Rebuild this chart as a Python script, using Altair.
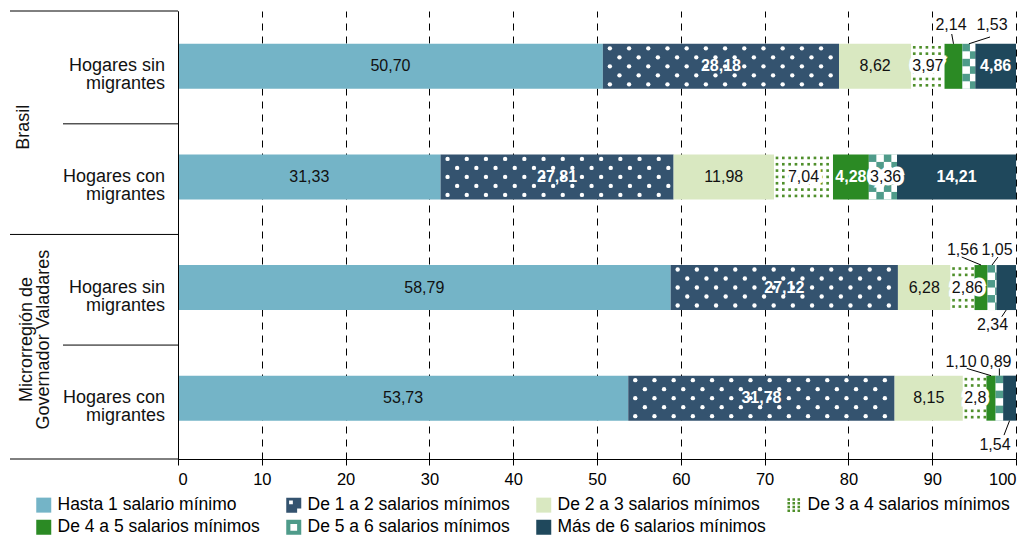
import altair as alt
import pandas as pd

FONT = "Liberation Sans"

# ---------------- data ----------------
categories = [
    "Hasta 1 salario mínimo",
    "De 1 a 2 salarios mínimos",
    "De 2 a 3 salarios mínimos",
    "De 3 a 4 salarios mínimos",
    "De 4 a 5 salarios mínimos",
    "De 5 a 6 salarios mínimos",
    "Más de 6 salarios mínimos",
]
group_names = ["Brasil", "Microrregión de\nGovernador Valadares"]
row_names = ["Hogares sin\nmigrantes", "Hogares con\nmigrantes",
             "Hogares sin\nmigrantes", "Hogares con\nmigrantes"]

brasil_sin = [50.70, 28.18, 8.62, 3.97, 2.14, 1.53, 4.86]
brasil_con = [31.33, 27.81, 11.98, 7.04, 4.28, 3.36, 14.21]
gv_sin = [58.79, 27.12, 6.28, 2.86, 1.56, 1.05, 2.34]
gv_con = [53.73, 31.78, 8.15, 2.81, 1.10, 0.89, 1.54]
series = [brasil_sin, brasil_con, gv_sin, gv_con]

# label placement: c = centred in segment, l = from segment start, o = outside (annotation)
label_mode = [
    ["c", "c", "c", "c", "o", "o", "c"],
    ["c", "c", "c", "c", "c", "l", "c"],
    ["c", "c", "c", "l", "o", "o", "o"],
    ["c", "c", "c", "l", "o", "o", "o"],
]
label_text_override = {(3, 3): "2,8"}

# outside labels: (row, category index, label x, label y, leader end x, leader end y)
annotations = [
    (0, 4, 92.24, -0.369, 92.33, -0.292),
    (0, 5, 97.14, -0.369, 96.90, -0.265),
    (2, 4, 93.62, 1.661, 93.52, 1.724),
    (2, 5, 97.73, 1.661, 97.85, 1.724),
    (2, 6, 97.20, 2.339, 98.30, 2.264),
    (3, 4, 93.44, 2.669, 94.12, 2.731),
    (3, 5, 97.60, 2.669, 98.015, 2.731),
    (3, 6, 97.49, 3.424, 98.57, 3.334),
]

# ---------------- styles ----------------
legend_colors = ["#74b4c7", "#34536f", "#d9e8c1", "#4f8f2b", "#2b8a24", "#4f9b8a", "#1f485c"]
base_colors = ["#74b4c7", "#34536f", "#d9e8c1", "#ffffff", "#2b8a24", "#4f9b8a", "#1f485c"]
SQ = "M-1,-1H1V1H-1Z"


def sq(cx, cy, h):
    return f"M{cx-h},{cy-h}H{cx+h}V{cy+h}H{cx-h}Z"


def hole(x0, y0, x1, y1):
    return f"M{x0},{y0}V{y1}H{x1}V{y0}Z"


shape_dots = SQ + hole(-0.62, -0.62, -0.12, -0.12) + hole(0.45, 0.45, 1, 1)
shape_grid = "".join(sq(cx, cy, 0.17) for cy in (-0.75, -0.25, 0.25, 0.75) for cx in (-0.67, 0, 0.67))
shape_ring = SQ + hole(-0.45, -0.45, 0.45, 0.45)
legend_shapes = [SQ, shape_dots, SQ, shape_grid, SQ, shape_ring, SQ]

W, H = 838, 448
Y_DOMAIN = [-0.5, 3.55]
PXU = W / 100.0
PYU = H / (Y_DOMAIN[1] - Y_DOMAIN[0])
BH = 22.5 / PYU


def fmt(v):
    return f"{v:.2f}".replace(".", ",")


# ---------------- derived tables ----------------
recs = []
for r, vals in enumerate(series):
    s = 0.0
    for c, v in enumerate(vals):
        recs.append(dict(row=r, ci=c, cat=categories[c], v=v, start=s, end=s + v,
                         mid=s + v / 2, y0=r - BH, y1=r + BH, base=base_colors[c]))
        s += v
seg = pd.DataFrame(recs)

lab = []
for _, g in seg.iterrows():
    r, c = int(g.row), int(g.ci)
    mode = label_mode[r][c]
    if mode == "o":
        continue
    txt = label_text_override.get((r, c), fmt(g.v))
    style = "w" if c in (1, 4, 6) else ("h" if c in (3, 5) else "k")
    x = g.mid if mode == "c" else g.start + 0.15
    lab.append(dict(row=r, x=x, text=txt, mode=mode, style=style))
lab = pd.DataFrame(lab)

ann = []
for (r, c, lx, ly, ex, ey) in annotations:
    g = seg[(seg.row == r) & (seg.ci == c)].iloc[0]
    edge = r - BH if ly < r else r + BH
    ann.append(dict(text=fmt(g.v), lx=lx, ly=ly, sx=g.mid, sy=edge, ex=ex, ey=ey))
ann = pd.DataFrame(ann)

# patterns derived from segment extents
dots12 = []
for _, g in seg[seg.ci == 1].iterrows():
    for k in range(5):
        yy = g.row + (-18 + 9 * k) / PYU
        x = g.start + (7 if k % 2 == 0 else 16.6) / PXU
        while x < g.end - 2 / PXU:
            dots12.append(dict(x=x, y=yy))
            x += 19.2 / PXU
dots12 = pd.DataFrame(dots12)

dots34 = []
for _, g in seg[seg.ci == 3].iterrows():
    for k in range(7):
        yy = g.row + (-19 + 6.333 * k) / PYU
        x = g.start + 3 / PXU
        while x < g.end - 1.5 / PXU:
            dots34.append(dict(x=x, y=yy))
            x += 6.33 / PXU
dots34 = pd.DataFrame(dots34)

checks = []
cw, ch = 7.5 / PXU, 2 * BH / 6
for _, g in seg[seg.ci == 5].iterrows():
    for j in range(6):
        i, x = 0, g.start
        while x < g.end - 1e-6:
            if (i + j) % 2 == 1:
                checks.append(dict(x=x, x2=min(x + cw, g.end),
                                   y=g.row - BH + j * ch, y2=g.row - BH + (j + 1) * ch))
            x += cw
            i += 1
checks = pd.DataFrame(checks)

rows_df = pd.DataFrame(dict(row=list(range(4)), name=row_names))
grp_df = pd.DataFrame(dict(y=[0.55, 2.47], name=group_names))

# ---------------- encodings ----------------
xs = alt.Scale(domain=[0, 100], nice=False, zero=False)
ys = alt.Scale(domain=Y_DOMAIN, nice=False, zero=False, reverse=True)

x_axis = alt.Axis(values=list(range(0, 101, 10)), title=None, grid=True, gridColor="black",
                  gridDash=[7, 6], gridWidth=1, gridOpacity=1, domainColor="black",
                  tickColor="black", tickSize=6, labelFontSize=16.5, labelColor="black",
                  labelFont=FONT, labelPadding=6, format="d", domainWidth=1)
y_axis = alt.Axis(title=None, labels=False, ticks=False, grid=False, domain=True,
                  domainColor="black", domainWidth=1, zindex=1)


def X(f):
    return alt.X(f, type="quantitative", scale=xs, axis=x_axis)


def Y(f):
    return alt.Y(f, type="quantitative", scale=ys, axis=y_axis)


bars = alt.Chart(seg).mark_rect(opacity=1).encode(
    x=X("start"), x2="end:Q", y=Y("y0"), y2="y1:Q",
    fill=alt.Fill("base:N", scale=None),
)

p12 = alt.Chart(dots12).mark_point(filled=True, shape="circle", size=19, color="white",
                                   opacity=1).encode(x=X("x"), y=Y("y"))
p34 = alt.Chart(dots34).mark_point(filled=True, shape="square", size=7, color="#4f8f2b",
                                   opacity=1).encode(x=X("x"), y=Y("y"))
pch = alt.Chart(checks).mark_rect(color="white", opacity=1).encode(
    x=X("x"), x2="x2:Q", y=Y("y"), y2="y2:Q")

leg = alt.Legend(title=None, orient="none", legendX=-143, legendY=485, columns=4,
                 direction="horizontal", columnPadding=19, rowPadding=3.5, symbolSize=225,
                 symbolStrokeWidth=0, symbolOpacity=1, labelFontSize=17.5, labelFont=FONT,
                 labelColor="black", labelLimit=400, labelOffset=5, gridAlign="all",
                 padding=0)
legend_layer = alt.Chart(seg).mark_point(filled=True, opacity=0).encode(
    x=X("mid"), y=Y("row"),
    fill=alt.Fill("cat:N", scale=alt.Scale(domain=categories, range=legend_colors), legend=leg),
    shape=alt.Shape("cat:N", scale=alt.Scale(domain=categories, range=legend_shapes), legend=leg),
)


def text_layer(df, align, color, bold=False, halo=False, xf="x", yf="row"):
    kw = dict(align=align, baseline="middle", fontSize=16, font=FONT, color=color,
              fontWeight="bold" if bold else "normal")
    if halo:
        kw.update(stroke="white", strokeWidth=7, strokeJoin="miter")
    return alt.Chart(df).mark_text(**kw).encode(x=X(xf), y=Y(yf), text="text:N")


halo_df = lab[lab["style"] == "h"]
layers_txt = [
    text_layer(halo_df[halo_df["mode"] == "c"], "center", "white", halo=True),
    text_layer(halo_df[halo_df["mode"] == "l"], "left", "white", halo=True),
    text_layer(lab[(lab["style"] != "w") & (lab["mode"] == "c")], "center", "#111111"),
    text_layer(lab[(lab["style"] != "w") & (lab["mode"] == "l")], "left", "#111111"),
    text_layer(lab[lab["style"] == "w"], "center", "white", bold=True),
]

leaders = alt.Chart(ann).mark_rule(color="black", strokeWidth=1).encode(
    x=X("sx"), x2="ex:Q", y=Y("sy"), y2="ey:Q")
ann_text = text_layer(ann, "center", "#111111", xf="lx", yf="ly")

sep_long = alt.Chart(pd.DataFrame(dict(y=[-0.5, 1.52, 3.55]))).mark_rule(
    color="black", strokeWidth=1).encode(x=alt.value(-168), x2=alt.value(0), y=Y("y"))
sep_short = alt.Chart(pd.DataFrame(dict(y=[0.52, 2.52]))).mark_rule(
    color="black", strokeWidth=1).encode(x=alt.value(-115), x2=alt.value(0), y=Y("y"))

row_text = alt.Chart(rows_df).mark_text(
    align="right", baseline="middle", fontSize=18, font=FONT, color="#111111",
    lineBreak="\n", lineHeight=18).encode(x=alt.value(-13), y=Y("row"), text="name:N")
grp1 = alt.Chart(grp_df.iloc[[0]]).mark_text(
    angle=270, align="center", baseline="middle", fontSize=18, font=FONT, color="#111111",
    lineBreak="\n", lineHeight=17).encode(x=alt.value(-154), y=Y("y"), text="name:N")
grp2 = alt.Chart(grp_df.iloc[[1]]).mark_text(
    angle=270, align="center", baseline="middle", fontSize=18, font=FONT, color="#111111",
    lineBreak="\n", lineHeight=17).encode(x=alt.value(-151), y=Y("y"), text="name:N")

chart = alt.layer(
    bars, sep_long, sep_short, p12, p34, pch, legend_layer, *layers_txt,
    leaders, ann_text, row_text, grp1, grp2,
).properties(
    width=W, height=H,
    padding={"left": 170, "top": 3, "right": 6, "bottom": 78},
    autosize=alt.AutoSizeParams(type="none"),
).configure(font=FONT).configure_view(stroke=None)

chart.save("out.html", embed_options={"renderer": "svg", "actions": False})
